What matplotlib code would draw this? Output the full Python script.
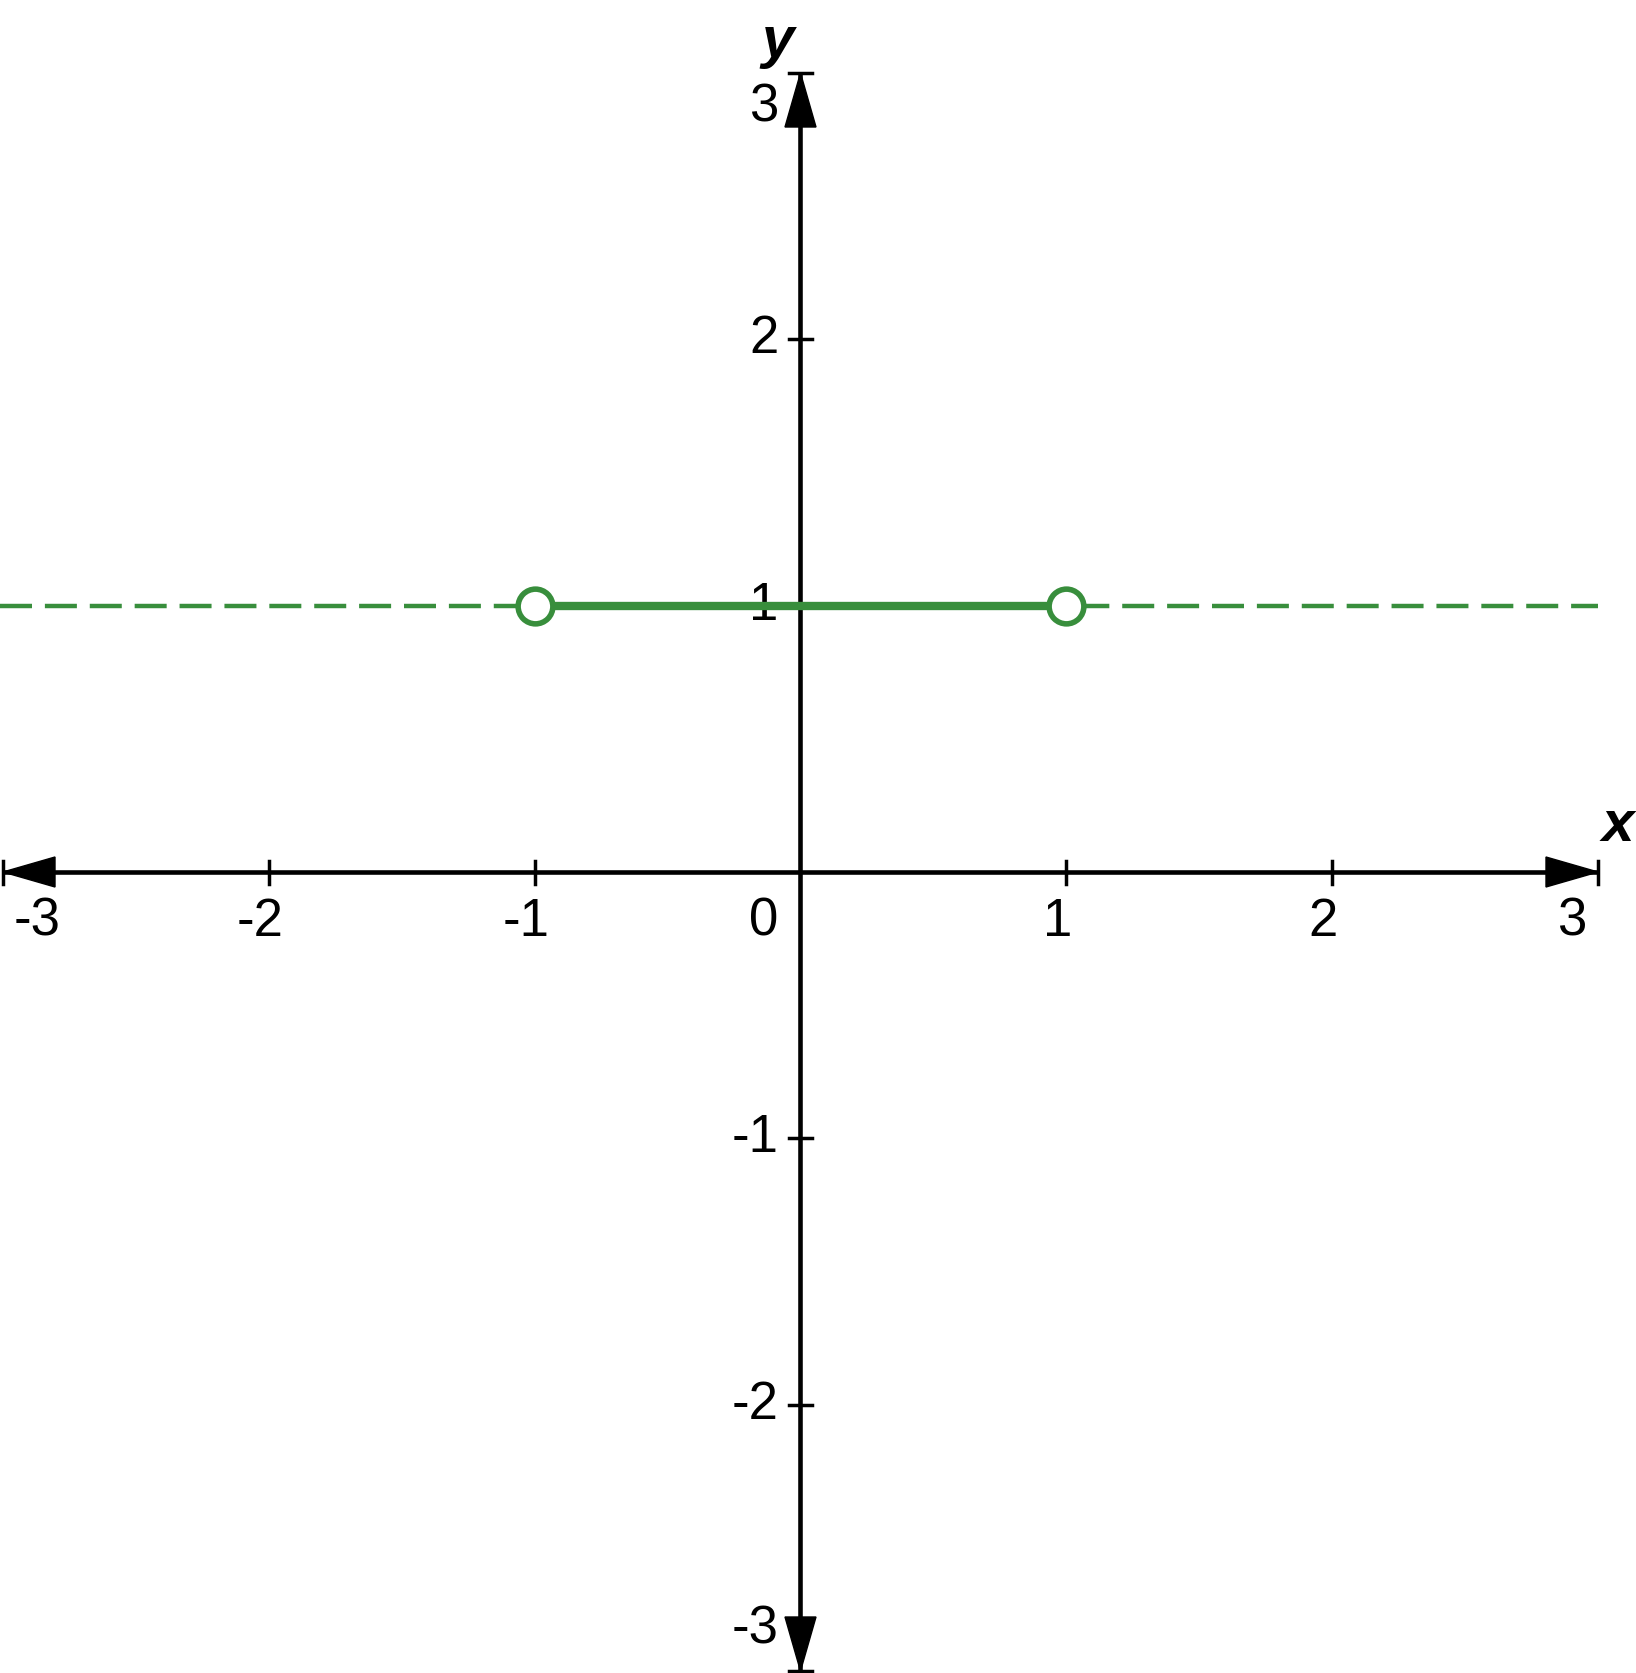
import numpy as np
import matplotlib
matplotlib.use("Agg")
import matplotlib.pyplot as plt

# datos de la función: segmento y = 1 en (-1, 1) con extremos abiertos
seg_x = [-1, 1]
seg_y = [1, 1]
asint_y = 1          # recta punteada y = 1
huecos_x = [-1, 1]
huecos_y = [1, 1]

x_ticks = [-3, -2, -1, 1, 2, 3]
y_ticks = [-3, -2, -1, 1, 2, 3]
verde = '#388E3C'

plt.rcParams['font.family'] = ['Liberation Sans', 'DejaVu Sans']

W, H = 1636, 1673
fig = plt.figure(figsize=(W / 100, H / 100), dpi=100)
ax = fig.add_axes([0, 0, 1, 1])

# escala: píxeles por unidad
ux = (1598 - 3) / 6
uy = (1671 - 73) / 6
ax.set_xlim(-3 - 3 / ux, -3 + (W - 3) / ux)
ax.set_ylim(-3 - (H - 1671) / uy, 3 + 73 / uy)
ax.axis('off')

# ejes con flechas
ax.plot([-3, 3], [0, 0], color='black', lw=3.3, solid_capstyle='butt', zorder=2)
ax.plot([0, 0], [-3, 3], color='black', lw=3.3, solid_capstyle='butt', zorder=2)
lx, wx = 52 / ux, 15 / uy
ly, wy = 54 / uy, 15.5 / ux
for s in (-1, 1):
    ax.fill([s * 3, s * (3 - lx), s * (3 - lx)], [0, wx, -wx], color='black', zorder=3)
    ax.fill([0, wy, -wy], [s * 3, s * (3 - ly), s * (3 - ly)], color='black', zorder=3)

t = 11.5
for v in x_ticks:
    ax.plot([v, v], [-t / uy, t / uy], color='black', lw=2.5, zorder=2)
for v in y_ticks:
    ax.plot([-t / ux, t / ux], [v, v], color='black', lw=2.5, zorder=2)

fs = 38
for v in x_ticks:
    dx = -9
    if v == -3:
        dx = 34
    elif v == 3:
        dx = -26
    ax.text(v + dx / ux, -25 / uy, str(v), ha='center', va='top', fontsize=fs)
for v in y_ticks:
    dy = 0
    if v == 3:
        dy = -34
    elif v == -3:
        dy = 42
    ax.text(-22 / ux, v + dy / uy, str(v), ha='right', va='center', fontsize=fs)
ax.text(-22 / ux, -25 / uy, '0', ha='right', va='top', fontsize=fs)

ax.text(3 + 20 / ux, 46 / uy, 'x', ha='center', va='center', fontsize=42,
        style='italic', weight='bold')
ax.text(-23 / ux, 3 + 31 / uy, 'y', ha='center', va='center', fontsize=42,
        style='italic', weight='bold')

# recta punteada y segmento
ax.plot([-3 - 3 / ux, 3], [asint_y, asint_y], color=verde, lw=3.2,
        dashes=(7.2, 2.9), zorder=4)
ax.plot(seg_x, seg_y, color=verde, lw=6, solid_capstyle='butt', zorder=5)
ax.plot(huecos_x, huecos_y, 'o', ms=25, mfc='white', mec=verde, mew=4, zorder=6)

fig.savefig('out.png', dpi=100)
